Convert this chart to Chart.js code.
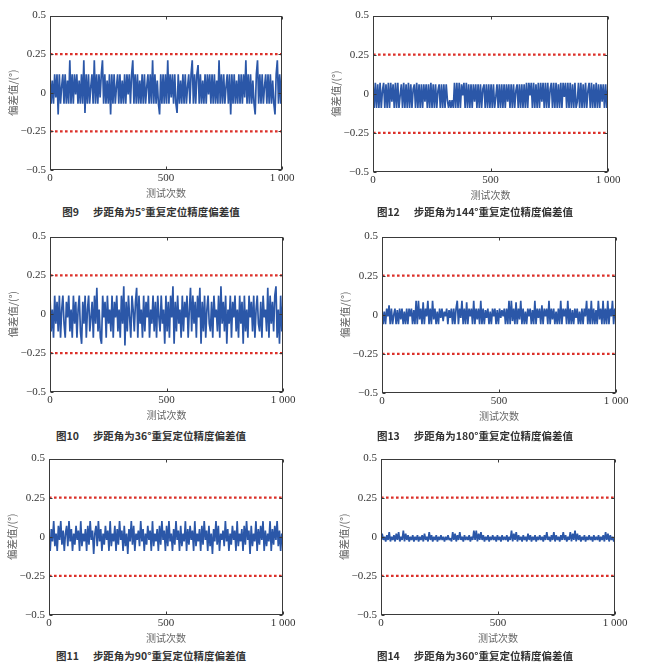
<!DOCTYPE html>
<html><head><meta charset="utf-8">
<script src="https://cdn.jsdelivr.net/npm/chart.js@4"></script>
<style>
html,body{margin:0;padding:0;background:#fff;}
body{width:650px;height:672px;position:relative;overflow:hidden;}
canvas{position:absolute;}
.cap{position:absolute;font-family:"Noto Sans CJK SC";font-weight:bold;font-size:10.5px;color:#333;white-space:nowrap;transform:translate(-50%,-50%);line-height:1;}
.cap .gap{display:inline-block;width:14px;}
</style></head><body>
<script>
// ---- axis / label data ----
const xTicks = [0, 500, 1000];
const xTickLabels = ['0', '500', '1 000'];
const yTicks = [-0.5, -0.25, 0, 0.25, 0.5];
const yTickLabels = ['\u22120.5', '\u22120.25', '0', '0.25', '0.5'];
const limitUpper = 0.25;
const limitLower = -0.25;
const trialCount = 1000;
const xTitle = '测试次数';
const yTitle = '偏差值/(°)';
const figNumbers = ['图9', '图12', '图10', '图13', '图11', '图14'];
const stepAngles = ['5°', '144°', '36°', '180°', '90°', '360°'];

const dev5 = [
0.12,-0.07,0.08,-0.07,0.12,-0.03,0.12,-0.14,0.12,-0.07,
0.04,0.12,-0.07,0.12,-0.07,0.08,-0.07,0.21,-0.07,0.12,
-0.07,0.12,-0.01,0.12,-0.07,0.08,-0.07,0.12,-0.07,0.21,
-0.13,0.12,-0.07,0.12,-0.07,0.04,0.12,-0.07,0.21,-0.07,
0.12,-0.07,0.12,-0.03,0.12,0.21,-0.07,0.12,-0.07,0.08,
-0.07,0.12,-0.14,0.12,-0.07,0.12,-0.07,0.04,0.12,-0.07,
0.12,-0.07,0.08,-0.07,0.12,-0.07,0.12,-0.01,0.12,-0.07,
0.12,0.21,-0.07,0.12,-0.07,0.12,-0.07,0.08,-0.07,0.12,
-0.07,0.12,-0.07,0.04,0.12,-0.07,0.12,-0.07,0.21,-0.07,
0.12,-0.07,0.08,-0.07,-0.14,0.12,-0.07,0.12,-0.07,0.12,
-0.07,0.21,-0.07,0.12,-0.03,0.12,-0.07,0.12,-0.07,-0.13,
0.12,-0.07,0.08,-0.07,0.12,-0.07,0.12,-0.07,0.04,0.12,
-0.07,0.12,0.21,-0.07,0.12,-0.07,0.12,0.18,-0.07,0.12,
-0.07,0.08,-0.07,0.12,-0.07,0.12,-0.01,0.12,-0.07,0.12,
-0.07,0.12,-0.07,0.08,-0.07,0.21,-0.07,0.12,-0.07,0.12,
-0.07,0.04,0.12,-0.07,0.12,-0.14,0.12,-0.07,0.12,-0.07,
0.08,-0.07,0.12,-0.07,0.12,-0.07,0.12,-0.03,0.21,-0.07,
0.12,-0.07,0.12,-0.07,0.08,-0.07,-0.14,0.12,0.21,-0.07,
0.12,-0.07,0.12,-0.07,0.04,0.12,-0.07,0.12,-0.07,0.12,
-0.07,0.08,-0.07,-0.14,0.12,0.21,-0.07,0.12,-0.07,0.14
];
const dev144 = [
0.07,-0.09,0.07,-0.09,0.06,-0.09,0.07,-0.09,0.02,0.07,
-0.09,0.06,-0.09,0.07,-0.09,0.07,-0.05,0.06,-0.09,0.07,
-0.09,0.07,-0.09,-0.01,0.06,-0.09,0.07,-0.09,0.06,-0.09,
0.07,-0.09,0.06,-0.09,0.03,0.06,-0.09,0.07,-0.09,0.06,
-0.09,0.06,-0.09,0.06,-0.05,0.06,-0.09,0.06,-0.09,0.07,
-0.09,0.06,-0.09,0.06,-0.09,0.02,0.06,-0.09,0.06,-0.09,
0.06,-0.09,0.06,-0.04,-0.09,-0.04,-0.09,-0.04,-0.09,0.07,
-0.09,0.07,-0.09,0.07,-0.09,0.06,-0.01,0.07,-0.09,0.07,
-0.09,0.06,-0.09,0.06,-0.09,0.06,-0.05,0.06,-0.09,0.06,
-0.09,0.06,-0.09,0.03,0.06,-0.09,0.06,-0.09,0.06,-0.09,
0.06,-0.09,0.06,-0.09,-0.02,0.06,-0.09,0.06,-0.09,0.06,
-0.09,0.06,-0.09,0.06,-0.05,0.06,-0.09,0.06,-0.09,0.06,
-0.09,0.02,0.06,-0.09,0.06,-0.09,0.06,-0.09,0.06,-0.09,
0.07,-0.09,0.07,-0.01,0.07,-0.09,0.07,-0.09,0.06,-0.09,
0.07,-0.09,0.07,-0.05,0.07,-0.09,0.07,-0.09,0.07,-0.09,
0.03,0.07,-0.09,0.07,-0.09,0.07,-0.09,0.06,-0.09,0.07,
-0.09,0.07,-0.02,0.07,-0.09,0.07,-0.09,0.07,-0.09,0.06,
-0.09,0.07,-0.09,-0.05,0.07,-0.09,0.07,-0.09,0.06,-0.09,
0.07,-0.09,0.02,0.07,-0.09,0.07,-0.09,0.06,-0.09,0.07,
-0.09,0.06,-0.09,0.06,-0.05,0.06,-0.09,0.06,-0.09,0.05
];
const dev36 = [
0.12,-0.11,0.03,-0.15,0.12,-0.06,0.08,-0.11,0.12,-0.15,
0.03,0.12,-0.06,-0.15,0.08,-0.02,0.12,-0.11,0.03,-0.15,
0.12,-0.06,0.08,-0.15,0.03,0.12,-0.11,-0.19,0.08,-0.06,
0.12,-0.15,0.03,0.12,-0.11,-0.02,0.08,-0.15,0.12,-0.06,
0.17,-0.11,0.03,-0.15,-0.19,0.12,-0.02,0.08,-0.15,0.12,
-0.06,0.03,-0.11,0.12,-0.15,0.08,-0.02,0.12,-0.11,0.03,
-0.15,0.12,-0.06,0.18,-0.20,0.08,-0.11,0.12,-0.02,-0.15,
0.12,0.03,-0.11,0.08,0.17,-0.15,0.12,-0.06,0.03,-0.15,
0.12,-0.11,0.08,-0.02,0.12,-0.15,0.03,-0.06,0.12,-0.11,
0.08,-0.15,0.12,-0.02,-0.11,0.12,-0.06,0.03,-0.19,0.12,
-0.11,0.08,-0.15,0.12,-0.02,0.18,-0.19,0.08,-0.11,0.12,
-0.06,0.03,-0.15,0.12,-0.11,0.08,-0.02,0.12,-0.15,0.03,
0.17,-0.11,0.12,-0.06,0.08,-0.15,0.12,-0.02,0.17,-0.19,
0.08,-0.11,0.12,-0.15,0.03,0.12,-0.06,-0.11,0.08,-0.15,
0.12,-0.02,0.03,-0.11,0.12,-0.15,0.18,-0.06,0.08,-0.11,
0.12,-0.19,0.03,-0.06,0.12,-0.15,0.08,-0.02,0.12,-0.11,
0.03,-0.15,0.12,-0.06,0.08,-0.19,0.12,-0.11,0.03,-0.15,
0.12,-0.02,0.08,-0.11,0.12,-0.15,0.03,0.12,-0.06,-0.11,
0.08,-0.15,0.12,-0.02,0.03,-0.11,0.17,-0.15,0.12,-0.06,
0.08,-0.11,0.12,0.18,-0.15,0.03,-0.19,0.12,-0.11,0.08
];
const dev180 = [
0.04,-0.06,0.02,-0.06,0.04,-0.01,0.06,-0.06,0.04,-0.06,
0.00,0.04,-0.06,0.03,-0.06,0.04,-0.03,0.04,-0.06,0.02,
-0.06,0.04,-0.06,0.04,-0.01,0.04,-0.06,0.03,-0.06,0.09,
-0.06,0.09,-0.03,0.04,-0.06,0.08,-0.06,0.04,-0.01,0.09,
-0.06,0.04,-0.06,0.09,-0.03,0.04,-0.06,0.02,-0.06,0.04,
-0.02,0.04,-0.04,0.02,-0.01,0.04,-0.06,0.03,-0.02,0.04,
-0.06,0.04,-0.06,0.04,0.09,-0.06,0.04,-0.02,0.09,-0.06,
0.04,-0.06,0.08,-0.06,0.04,-0.01,0.04,-0.06,0.09,-0.06,
0.04,-0.03,0.04,-0.06,0.09,-0.06,0.04,-0.06,0.03,-0.02,
0.04,-0.06,0.02,-0.06,0.04,-0.01,0.04,-0.06,0.03,-0.06,
0.04,-0.02,0.03,-0.01,0.04,-0.06,0.04,-0.06,0.09,-0.06,
0.09,-0.04,0.04,-0.06,0.08,-0.06,0.04,-0.03,0.09,-0.06,
0.04,-0.06,0.02,-0.06,0.04,-0.01,0.04,-0.06,0.03,-0.06,
0.09,-0.06,0.04,-0.02,0.04,-0.06,0.06,-0.06,0.04,-0.01,
0.04,-0.06,0.09,-0.06,0.04,-0.03,0.04,-0.06,0.02,-0.06,
0.04,-0.06,0.09,-0.06,0.04,-0.01,0.04,-0.06,0.09,-0.06,
0.04,-0.06,0.03,-0.06,0.04,-0.02,0.04,-0.06,0.02,-0.06,
0.04,-0.06,0.04,-0.01,0.09,-0.06,0.04,-0.06,0.09,-0.06,
0.04,-0.06,0.03,-0.06,0.09,-0.03,0.04,-0.06,0.09,-0.06,
0.04,-0.06,0.09,-0.06,0.04,-0.01,0.09,-0.06,0.04,0.00
];
const dev90 = [
0.00,-0.09,0.05,-0.03,0.10,-0.06,0.02,-0.09,0.07,-0.02,
0.10,-0.05,0.04,-0.09,0.02,0.07,-0.06,0.10,-0.03,0.05,
-0.09,0.02,-0.05,0.07,-0.02,0.04,-0.09,0.10,-0.06,0.02,
-0.03,0.05,-0.09,0.07,-0.05,0.10,-0.02,0.04,-0.11,0.02,
0.07,-0.06,0.10,-0.03,0.05,-0.09,0.02,-0.05,0.07,-0.02,
0.04,-0.09,0.10,-0.06,0.02,-0.03,0.07,-0.09,0.05,-0.05,
0.10,-0.02,0.04,-0.09,0.07,-0.06,0.02,-0.11,0.05,-0.03,
0.10,-0.05,0.07,-0.09,0.02,-0.02,0.04,-0.06,0.10,-0.03,
0.05,-0.09,0.02,-0.05,0.07,-0.02,0.04,-0.09,0.10,-0.06,
0.02,-0.03,0.05,-0.09,0.07,-0.05,0.10,-0.02,0.04,-0.09,
0.07,-0.06,0.10,-0.03,0.02,-0.09,0.05,-0.05,0.10,-0.02,
0.04,-0.09,0.07,-0.06,0.02,-0.03,0.10,-0.09,0.05,-0.05,
0.07,-0.02,0.04,-0.09,0.10,-0.06,0.02,-0.03,0.05,-0.09,
0.07,-0.05,0.10,-0.02,0.04,-0.09,0.07,-0.06,0.02,-0.11,
0.05,-0.03,0.10,-0.05,0.07,-0.09,0.02,-0.02,0.04,-0.06,
0.10,-0.03,0.05,-0.09,0.02,-0.05,0.07,-0.02,0.04,-0.09,
0.10,-0.06,0.02,-0.03,0.05,-0.09,0.07,-0.05,0.10,-0.02,
0.04,-0.11,0.07,-0.06,0.02,-0.03,0.10,-0.09,0.05,-0.05,
0.07,-0.02,0.10,-0.09,0.04,-0.06,0.02,-0.03,0.10,-0.09,
0.05,-0.05,0.07,-0.02,0.10,-0.06,0.04,-0.09,0.02,-0.05
];
const dev360 = [
-0.03,0.02,-0.02,0.00,-0.03,0.01,-0.02,0.03,-0.03,0.00,
-0.02,0.01,-0.03,0.02,-0.02,0.03,-0.03,0.00,-0.02,0.04,
-0.03,0.02,-0.02,0.01,-0.03,0.00,-0.02,0.01,-0.03,0.00,
-0.02,0.01,-0.03,0.00,-0.02,0.01,-0.03,0.02,-0.02,0.00,
-0.03,0.03,-0.02,0.01,-0.03,0.00,-0.02,0.01,-0.03,0.00,
-0.02,0.01,-0.02,0.00,-0.03,0.00,-0.02,0.01,-0.02,-0.01,
-0.03,0.03,-0.02,0.02,-0.03,0.01,-0.02,0.03,-0.02,0.00,
-0.03,0.01,-0.02,0.00,-0.02,0.01,-0.03,0.00,-0.02,0.04,
-0.02,0.04,-0.03,0.02,-0.02,0.03,-0.02,0.01,-0.03,0.00,
-0.02,0.01,-0.03,0.00,-0.02,0.01,-0.02,0.00,-0.03,0.01,
-0.02,0.00,-0.03,0.01,-0.02,0.00,-0.02,0.01,-0.03,0.00,
-0.02,0.04,-0.03,0.02,-0.02,0.03,-0.03,0.01,-0.02,0.00,
-0.03,0.01,-0.02,0.00,-0.03,0.02,-0.02,0.01,-0.03,0.00,
-0.02,0.01,-0.03,0.00,-0.02,0.01,-0.02,0.00,-0.03,0.01,
-0.02,0.03,-0.02,0.00,-0.03,0.01,-0.02,0.03,-0.03,0.01,
-0.02,0.00,-0.03,0.01,-0.02,0.03,-0.02,0.01,-0.03,0.00,
-0.02,0.03,-0.03,0.02,-0.02,0.04,-0.03,0.02,-0.02,0.01,
-0.03,0.00,-0.02,0.01,-0.03,0.00,-0.02,0.01,-0.02,0.00,
-0.03,0.01,-0.02,0.00,-0.02,0.01,-0.03,0.00,-0.02,0.01,
-0.03,0.03,-0.02,0.02,-0.03,0.01,-0.02,0.00,-0.03,-0.01
];

// ---- layout (plot-area boxes in page pixels) ----
const panels = [
  {data: dev5,   L: 50,  R: 282, T: 15,  B: 170, capX: 151, capY: 212},
  {data: dev144, L: 373, R: 608, T: 15,  B: 172, capX: 475, capY: 212},
  {data: dev36,  L: 50,  R: 283, T: 236, B: 392, capX: 151, capY: 436},
  {data: dev180, L: 382, R: 616, T: 236, B: 393, capX: 475, capY: 436},
  {data: dev90,  L: 49,  R: 283, T: 458, B: 615, capX: 151, capY: 656},
  {data: dev360, L: 381, R: 615, T: 458, B: 615, capX: 475, capY: 656}
];

const boxPlugin = {
  id: 'boxFrame',
  afterDraw(chart) {
    const {ctx, chartArea: a, scales: {x, y}} = chart;
    ctx.save();
    ctx.strokeStyle = '#3a3a3a';
    ctx.lineWidth = 1;
    const l = Math.round(a.left) + 0.5, r = Math.round(a.right) - 0.5;
    const t = Math.round(a.top) + 0.5, b = Math.round(a.bottom) - 0.5;
    ctx.strokeRect(l, t, r - l, b - t);
    ctx.beginPath();
    xTicks.forEach(v => {
      const px = Math.round(x.getPixelForValue(v)) + 0.5;
      ctx.moveTo(px, b); ctx.lineTo(px, b - 3);
      ctx.moveTo(px, t); ctx.lineTo(px, t + 3);
    });
    yTicks.forEach(v => {
      const py = Math.round(y.getPixelForValue(v)) + 0.5;
      ctx.moveTo(l, py); ctx.lineTo(l + 3, py);
      ctx.moveTo(r, py); ctx.lineTo(r - 3, py);
    });
    ctx.stroke();
    ctx.restore();
  }
};

const padL = 50, padT = 10, padR = 20, padB = 32;

panels.forEach((p, idx) => {
  const c = document.createElement('canvas');
  const w = p.R - p.L + padL + padR;
  const h = p.B - p.T + padT + padB;
  c.width = w; c.height = h;
  c.style.left = (p.L - padL) + 'px';
  c.style.top = (p.T - padT) + 'px';
  c.style.width = w + 'px'; c.style.height = h + 'px';
  document.body.appendChild(c);
  const n = p.data.length;
  const pts = p.data.map((v, i) => ({x: i * trialCount / (n - 1), y: v}));
  new Chart(c, {
    type: 'line',
    data: {datasets: [
      {data: pts, borderColor: '#2b57a8', borderWidth: 1.7, pointRadius: 0, tension: 0, fill: false, borderJoinStyle: 'bevel'},
      {data: [{x: 0, y: limitUpper}, {x: trialCount, y: limitUpper}], borderColor: '#dc3029', borderWidth: 2.2, borderDash: [2.6, 2.4], pointRadius: 0, fill: false},
      {data: [{x: 0, y: limitLower}, {x: trialCount, y: limitLower}], borderColor: '#dc3029', borderWidth: 2.2, borderDash: [2.6, 2.4], pointRadius: 0, fill: false}
    ]},
    options: {
      responsive: false, animation: false, events: [], devicePixelRatio: 1,
      layout: {padding: {left: 0, top: padT, right: padR, bottom: 0}},
      plugins: {legend: {display: false}, tooltip: {enabled: false}},
      scales: {
        x: {
          type: 'linear', min: 0, max: trialCount,
          afterBuildTicks: s => { s.ticks = xTicks.map(v => ({value: v})); },
          afterFit: s => { s.height = padB; },
          grid: {display: false, drawTicks: false}, border: {display: false},
          ticks: {padding: 2, maxRotation: 0, autoSkip: false, color: '#333',
            font: {family: 'Liberation Serif', size: 11},
            callback: v => xTickLabels[xTicks.indexOf(v)]},
          title: {display: true, text: xTitle, color: '#666',
            font: {family: 'Noto Sans CJK SC', size: 10}, padding: {top: 0, bottom: 3}}
        },
        y: {
          type: 'linear', min: -0.5, max: 0.5,
          afterBuildTicks: s => { s.ticks = yTicks.map(v => ({value: v})); },
          afterFit: s => { s.width = padL; },
          grid: {display: false, drawTicks: false}, border: {display: false},
          ticks: {padding: 4, autoSkip: false, color: '#333',
            font: {family: 'Liberation Serif', size: 11},
            callback: v => yTickLabels[yTicks.indexOf(v)]},
          title: {display: true, text: yTitle, color: '#666',
            font: {family: 'Noto Sans CJK SC', size: 10.5}, padding: {top: 7, bottom: 0}}
        }
      }
    },
    plugins: [boxPlugin]
  });
  const cap = document.createElement('div');
  cap.className = 'cap';
  cap.style.left = p.capX + 'px';
  cap.style.top = p.capY + 'px';
  const s1 = document.createElement('span'); s1.textContent = figNumbers[idx];
  const g = document.createElement('span'); g.className = 'gap';
  const s2 = document.createElement('span'); s2.textContent = '步距角为' + stepAngles[idx] + '重复定位精度偏差值';
  cap.appendChild(s1); cap.appendChild(g); cap.appendChild(s2);
  document.body.appendChild(cap);
});
</script>
</body></html>
